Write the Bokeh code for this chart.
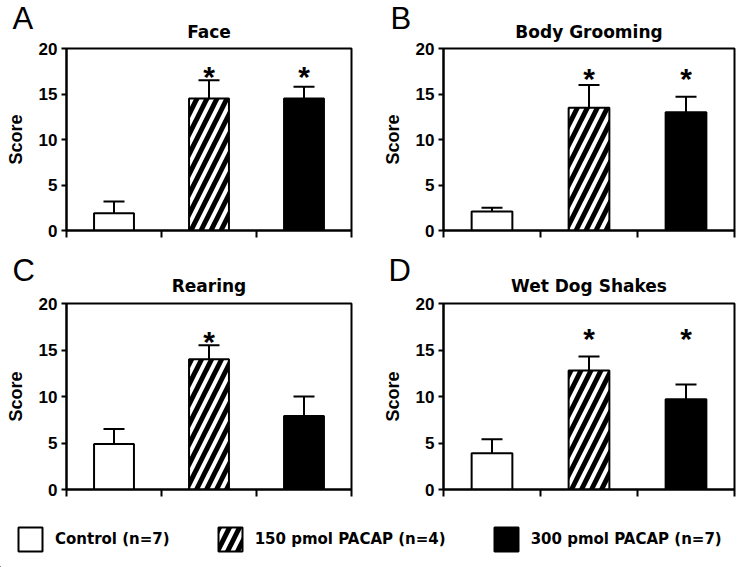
import numpy as np
from bokeh.plotting import figure
from bokeh.models import (ColumnDataSource, Whisker, TeeHead, FixedTicker, Title,
                          Legend, LegendItem, Range1d)
from bokeh.layouts import column, row
from bokeh.embed import file_html
from bokeh.resources import INLINE
from bokeh.core.properties import value

# ---------------- data ----------------
groups = ["Control (n=7)", "150 pmol PACAP (n=4)", "300 pmol PACAP (n=7)"]
panel_letters = ["A", "B", "C", "D"]
panel_titles = ["Face", "Body Grooming", "Rearing", "Wet Dog Shakes"]

face_mean = [1.9, 14.5, 14.5]
face_sem = [1.3, 2.0, 1.3]
face_sig = [False, True, True]

grooming_mean = [2.1, 13.5, 13.0]
grooming_sem = [0.4, 2.5, 1.7]
grooming_sig = [False, True, True]

rearing_mean = [4.9, 14.0, 7.9]
rearing_sem = [1.6, 1.5, 2.1]
rearing_sig = [False, True, False]

wds_mean = [3.9, 12.8, 9.7]
wds_sem = [1.5, 1.5, 1.6]
wds_sig = [False, True, True]

star_level = [16.9, 16.7, 15.9, 16.2]

y_ticks = [0, 5, 10, 15, 20]
x_boundaries = [0, 1, 2, 3]

fill_colors = ["white", "white", "black"]
hatch_patterns = [" ", "/", " "]

BOLD_FONT = "Liberation Sans"
TITLE_FONT = "DejaVu Sans"
HATCH_SCALE = 20
HATCH_WEIGHT = 5


def make_panel(idx, mean, sem, sig, width, height, mbl, mbr, mbt, mbb,
               letter_offset, letter_standoff, title_standoff):
    x = np.arange(len(groups)) + 0.5
    top = np.array(mean, dtype=float)
    src = ColumnDataSource(dict(x=x, top=top, upper=top + np.array(sem),
                                fill=fill_colors, hatch=hatch_patterns))
    p = figure(width=width, height=height, x_range=Range1d(0, 3), y_range=Range1d(0, 20),
               output_backend="svg", toolbar_location=None,
               min_border_left=mbl, min_border_right=mbr,
               min_border_top=mbt, min_border_bottom=mbb)
    p.vbar(x="x", top="top", bottom=0, width=0.42, source=src,
           fill_color="fill", line_color="black", line_width=2,
           hatch_pattern="hatch", hatch_color="black",
           hatch_scale=HATCH_SCALE, hatch_weight=HATCH_WEIGHT)
    wh = Whisker(source=src, base="x", upper="upper", lower="top", dimension="height",
                 line_width=2, line_color="black",
                 upper_head=TeeHead(size=21, line_width=2, line_color="black"),
                 lower_head=None)
    p.add_layout(wh)

    sx = [x[j] for j in range(len(sig)) if sig[j]]
    sy = [star_level[idx]] * len(sx)
    p.text(x=sx, y=sy, text=["*"] * len(sx), text_align="center", text_baseline="middle",
           text_font=value(BOLD_FONT), text_font_style="bold", text_font_size="30px",
           text_color="black")

    p.grid.visible = False
    p.outline_line_color = "black"
    p.outline_line_width = 2
    p.background_fill_color = "white"
    p.border_fill_color = "white"

    # outer title: the panel letter
    p.title.text = panel_letters[idx]
    p.title.align = "left"
    p.title.offset = letter_offset
    p.title.text_font = "Liberation Sans"
    p.title.text_font_style = "normal"
    p.title.text_font_size = "31px"
    p.title.text_color = "black"
    p.title.standoff = letter_standoff

    # inner title: the panel name
    p.add_layout(Title(text=panel_titles[idx], align="center", text_font=TITLE_FONT,
                       text_font_style="bold", text_font_size="17px",
                       text_color="black", standoff=title_standoff), "above")

    xa = p.xaxis[0]
    xa.ticker = FixedTicker(ticks=x_boundaries)
    xa.major_label_overrides = {t: "" for t in x_boundaries}
    xa.major_label_text_font_size = "0px"
    xa.major_label_standoff = 0
    xa.major_tick_out = 7
    xa.major_tick_in = 0
    xa.minor_tick_line_color = None
    xa.axis_line_width = 2
    xa.major_tick_line_width = 2

    ya = p.yaxis[0]
    ya.ticker = FixedTicker(ticks=y_ticks)
    ya.major_tick_out = 5
    ya.major_tick_in = 0
    ya.minor_tick_line_color = None
    ya.axis_line_width = 2
    ya.major_tick_line_width = 2
    ya.major_label_standoff = 4
    ya.major_label_text_font = BOLD_FONT
    ya.major_label_text_font_style = "bold"
    ya.major_label_text_font_size = "17px"
    ya.major_label_text_color = "black"
    ya.axis_label = "Score"
    ya.axis_label_text_font = BOLD_FONT
    ya.axis_label_text_font_style = "bold"
    ya.axis_label_text_font_size = "18px"
    ya.axis_label_text_color = "black"
    ya.axis_label_standoff = 10
    return p


pA = make_panel(0, face_mean, face_sem, face_sig, 375, 250, 66, 24, 48, 20, -54, -47, 14)
pB = make_panel(1, grooming_mean, grooming_sem, grooming_sig, 375, 250, 68, 16, 48, 20, -53, -47, 14)
pC = make_panel(2, rearing_mean, rearing_sem, rearing_sig, 375, 259, 66, 24, 53, 20, -54, -42, 15)
pD = make_panel(3, wds_mean, wds_sem, wds_sig, 375, 259, 68, 16, 53, 20, -55, -42, 15)

# ---------------- legend strip ----------------
leg_src = ColumnDataSource(dict(x=[0, 0, 0], top=[0, 0, 0], group=groups,
                                fill=fill_colors, hatch=hatch_patterns))
lf = figure(width=750, height=58, x_range=Range1d(10, 11), y_range=Range1d(10, 11),
            x_axis_type=None, y_axis_type=None, output_backend="svg",
            toolbar_location=None, min_border=0, outline_line_color=None)
lf.grid.visible = False
r = lf.vbar(x="x", top="top", bottom=0, width=0.5, source=leg_src,
            fill_color="fill", line_color="black", line_width=2,
            hatch_pattern="hatch", hatch_color="black",
            hatch_scale=HATCH_SCALE, hatch_weight=HATCH_WEIGHT)
items = [LegendItem(label=g, renderers=[r], index=j) for j, g in enumerate(groups)]
leg = Legend(items=items, orientation="horizontal", location=(15, 13),
             glyph_width=30, glyph_height=30, label_standoff=10, spacing=45,
             padding=0, margin=0, border_line_color=None, background_fill_alpha=0,
             label_text_font="DejaVu Sans", label_text_font_style="bold",
             label_text_font_size="15px", label_text_color="black")
lf.add_layout(leg)

layout = column(row(pA, pB), row(pC, pD), lf)

with open("out.html", "w") as f:
    f.write(file_html(layout, INLINE))
